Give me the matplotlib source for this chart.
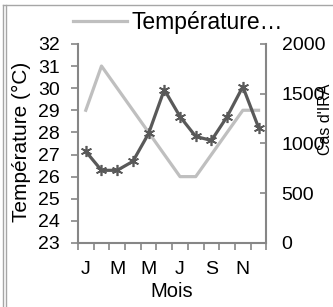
import matplotlib
matplotlib.use('Agg')
import matplotlib.pyplot as plt
from matplotlib.lines import Line2D

plt.rcParams['font.family'] = ['Liberation Sans', 'DejaVu Sans']

# donnees mensuelles
mois = ['J', 'F', 'M', 'A', 'M', 'J', 'J', 'A', 'S', 'O', 'N', 'D']
temperature = [29, 31, 30, 29, 28, 27, 26, 26, 27, 28, 29, 29]
cas_ira = [920, 730, 730, 820, 1100, 1540, 1270, 1070, 1030, 1270, 1570, 1160]
mois_affiches = ['J', 'M', 'M', 'J', 'S', 'N']

spine_col = '#868686'
fs = 14

fig = plt.figure(figsize=(3.33, 3.07), dpi=100)
ax = fig.add_axes([0.234, 0.2085, 0.566, 0.6485])
ax2 = ax.twinx()

x = list(range(len(mois)))
ax.plot(x, temperature, color='#bfbfbf', lw=2.3, label='Température…')
ax2.plot(x, cas_ira, color='#595959', lw=2.3, marker=(6, 2, 0),
         markersize=8, markeredgewidth=1.2, markeredgecolor='#595959')

ax.set_xlim(-0.5, 11.5)
ax.set_ylim(23, 32)
ax.set_yticks(range(23, 33))
ax2.set_ylim(0, 2000)
ax2.set_yticks([0, 500, 1000, 1500, 2000])

# ticks aux limites des categories, labels au centre
ax.set_xticks([i - 0.5 for i in range(13)])
ax.set_xticklabels([])
ax.set_xticks(x[::2], minor=True)
ax.set_xticklabels(mois_affiches, minor=True)
ax.tick_params(axis='x', which='major', direction='out', length=5,
               color=spine_col, width=1.2)
ax.tick_params(axis='x', which='minor', length=0, pad=13, labelsize=fs)
ax.tick_params(axis='y', direction='out', length=5, color=spine_col,
               width=1.2, pad=8, labelsize=fs)
ax2.tick_params(axis='y', direction='in', length=4, color=spine_col,
                width=1.2, pad=11, labelsize=fs)

for a in (ax, ax2):
    for s in a.spines.values():
        s.set_visible(False)
ax.spines['left'].set_visible(True)
ax.spines['bottom'].set_visible(True)
ax2.spines['right'].set_visible(True)
for s in (ax.spines['left'], ax.spines['bottom'], ax2.spines['right']):
    s.set_color(spine_col)
    s.set_linewidth(1.5)

ax.set_xlabel('Mois', fontsize=14.5, labelpad=3)
fig.text(0.063, 0.537, 'Température (°C)', rotation=90, fontsize=15,
         ha='center', va='center')
fig.text(0.978, 0.612, "Cas d'IRA", rotation=90, fontsize=11.5,
         ha='center', va='center')

ax.legend(loc='center left', bbox_to_anchor=(0.219, 0.926),
          bbox_transform=fig.transFigure, frameon=False, fontsize=16.5,
          handlelength=2.35, handletextpad=0.22, borderpad=0, borderaxespad=0)

# bordure du cadre
fig.add_artist(Line2D([0.009, 1.0], [0.984, 0.984], color='#a6a6a6', lw=1))
fig.add_artist(Line2D([0.009, 0.009], [0, 0.984], color='#a6a6a6', lw=1))
fig.add_artist(Line2D([0.018, 0.018], [0, 0.984], color='#a6a6a6', lw=1))

fig.savefig('out.png', dpi=100)
